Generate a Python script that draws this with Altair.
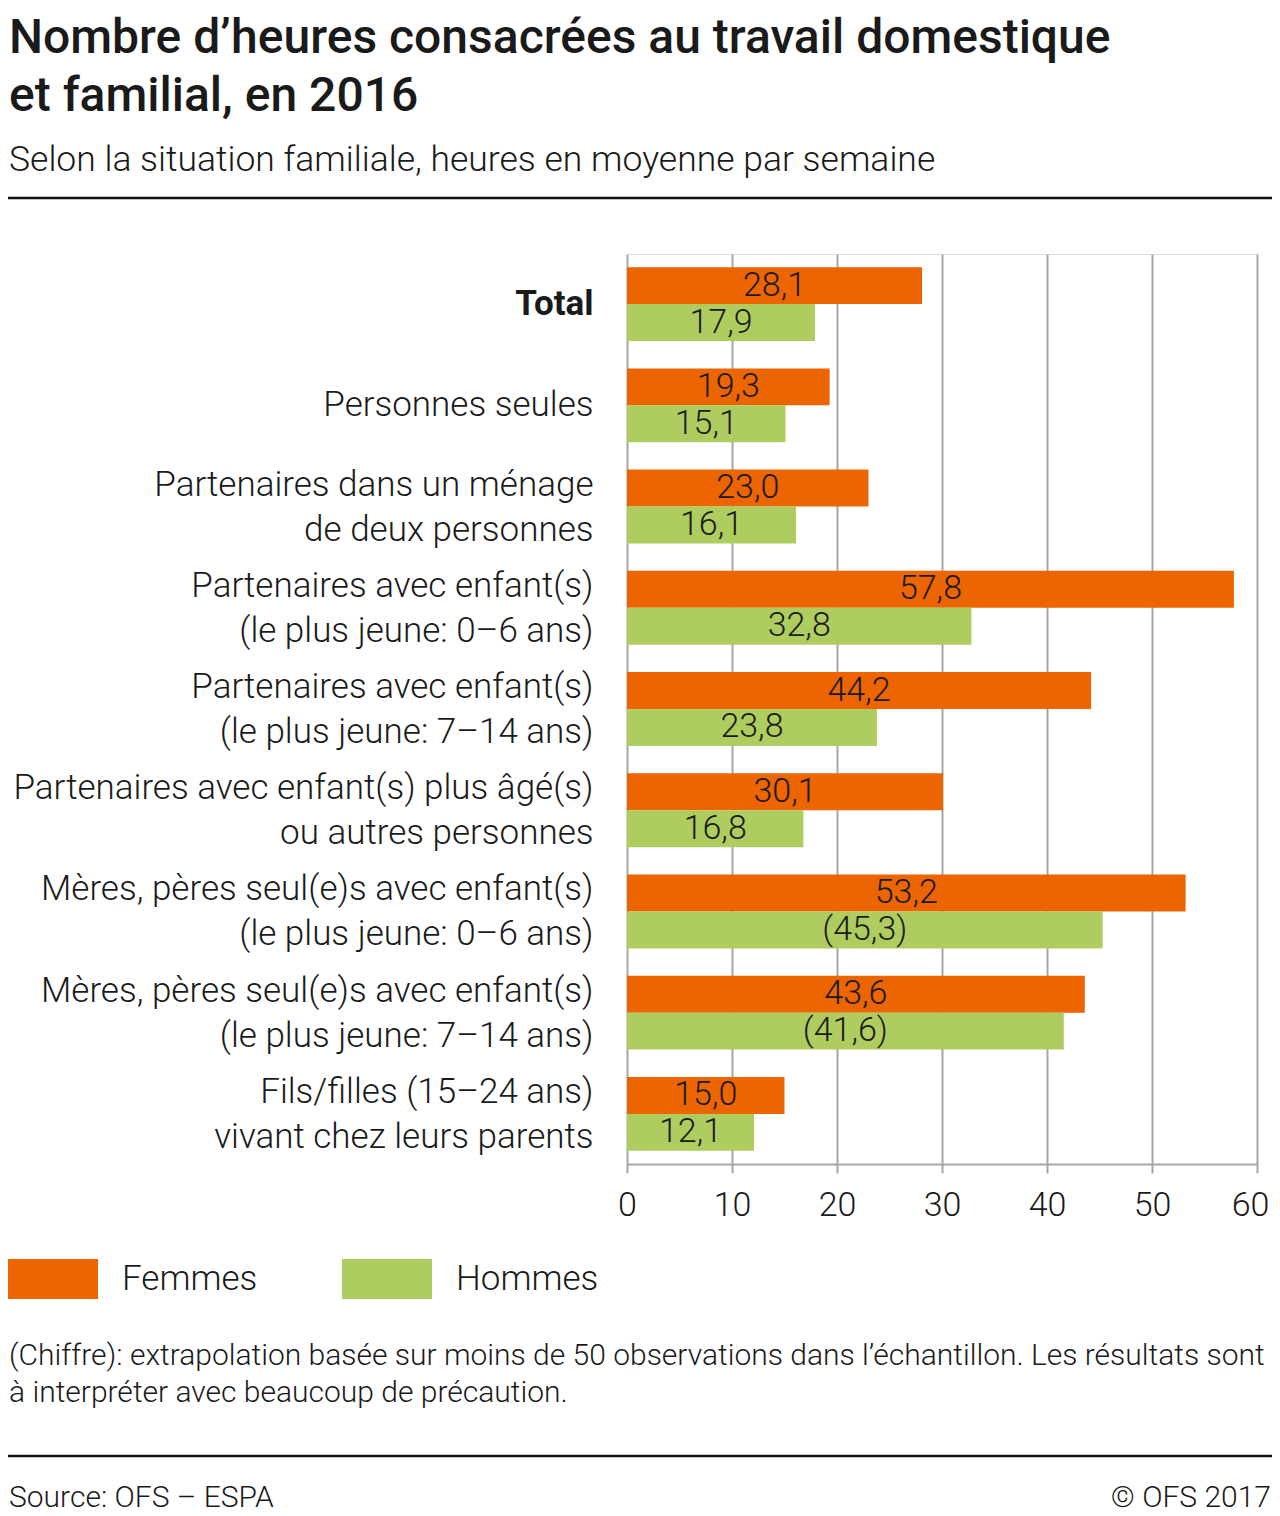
import altair as alt
import pandas as pd

# ---------------- data ----------------
categories = [
    "Total",
    "Personnes seules",
    "Partenaires dans un ménage|de deux personnes",
    "Partenaires avec enfant(s)|(le plus jeune: 0–6 ans)",
    "Partenaires avec enfant(s)|(le plus jeune: 7–14 ans)",
    "Partenaires avec enfant(s) plus âgé(s)|ou autres personnes",
    "Mères, pères seul(e)s avec enfant(s)|(le plus jeune: 0–6 ans)",
    "Mères, pères seul(e)s avec enfant(s)|(le plus jeune: 7–14 ans)",
    "Fils/filles (15–24 ans)|vivant chez leurs parents",
]
femmes = [28.1, 19.3, 23.0, 57.8, 44.2, 30.1, 53.2, 43.6, 15.0]
hommes = [17.9, 15.1, 16.1, 32.8, 23.8, 16.8, 45.3, 41.6, 12.1]
femmes_labels = ["28,1", "19,3", "23,0", "57,8", "44,2", "30,1", "53,2", "43,6", "15,0"]
hommes_labels = ["17,9", "15,1", "16,1", "32,8", "23,8", "16,8", "(45,3)", "(41,6)", "12,1"]
series = ["Femmes", "Hommes"]
colors = ["#EC6500", "#AFCD5F"]
x_ticks = [0, 10, 20, 30, 40, 50, 60]

title_lines = ["Nombre d’heures consacrées au travail domestique", "et familial, en 2016"]
subtitle = "Selon la situation familiale, heures en moyenne par semaine"
note_lines = [
    "(Chiffre): extrapolation basée sur moins de 50 observations dans l’échantillon. Les résultats sont",
    "à interpréter avec beaucoup de précaution.",
]
source_text = "Source: OFS – ESPA"
copyright_text = "© OFS 2017"

FONT = "Roboto"
TXT = "#1a1a1a"
GRID = "#a6a6a6"

rows = []
for c, f, h, fl, hl in zip(categories, femmes, hommes, femmes_labels, hommes_labels):
    rows.append({"cat": c, "sexe": series[0], "value": f, "label": fl})
    rows.append({"cat": c, "sexe": series[1], "value": h, "label": hl})
df = pd.DataFrame(rows)

W, H = 630, 910

y_enc = alt.Y(
    "cat:N",
    sort=categories,
    scale=alt.Scale(paddingInner=0.27, paddingOuter=0.13),
    axis=alt.Axis(
        title=None,
        domain=False,
        ticks=False,
        grid=False,
        labelExpr="split(datum.label, '|')",
        labelFont=FONT,
        labelFontSize=35,
        labelLineHeight=45,
        labelColor=TXT,
        labelPadding=34,
        labelLimit=700,
        labelOverlap=False,
        labelOffset={"condition": {"test": "indexof(datum.value, '|') >= 0", "value": -22}, "value": 0},
        labelFontWeight={"condition": {"test": "datum.value === 'Total'", "value": "bold"}, "value": 300},
    ),
)
yoff = alt.YOffset("sexe:N", sort=series)

x_axis = alt.Axis(
    title=None,
    values=x_ticks,
    format="d",
    grid=True,
    gridColor=GRID,
    gridWidth=2,
    domainColor=GRID,
    domainWidth=2,
    tickColor=GRID,
    tickWidth=2,
    tickSize=9,
    labelFont=FONT,
    labelFontSize=34,
    labelFontWeight=300,
    labelColor=TXT,
    labelPadding=15,
    labelFlush=False,
    labelOffset={"condition": {"test": "datum.value === 60", "value": -7}, "value": 0},
)

bars = alt.Chart(df).mark_bar().encode(
    x=alt.X("value:Q", scale=alt.Scale(domain=[0, 60], nice=False), axis=x_axis),
    y=y_enc,
    yOffset=yoff,
    color=alt.Color(
        "sexe:N",
        scale=alt.Scale(domain=series, range=colors),
        legend=alt.Legend(
            title=None,
            orient="none",
            legendX=-619,
            legendY=980,
            direction="horizontal",
            symbolType="M-1,-0.444L1,-0.444L1,0.444L-1,0.444Z",
            symbolSize=8100,
            symbolStrokeWidth=0,
            symbolOpacity=1,
            labelFont=FONT,
            labelFontSize=35,
            labelFontWeight=300,
            labelColor=TXT,
            labelOffset=24,
            columnPadding=84,
        ),
    ),
)

bar_text = alt.Chart(df).transform_calculate(mid="datum.value / 2").mark_text(
    font=FONT, fontSize=34, fontWeight=300, color=TXT, baseline="middle", align="center"
).encode(
    x=alt.X("mid:Q"),
    y=alt.Y("cat:N", sort=categories),
    yOffset=yoff,
    text="label:N",
)


def txt(text, x, y, size, weight=300, align="left", baseline="alphabetic"):
    return alt.Chart(pd.DataFrame({"t": [text]})).mark_text(
        font=FONT, fontSize=size, fontWeight=weight, color=TXT, align=align, baseline=baseline
    ).encode(x=alt.value(x), y=alt.value(y), text="t:N")


def hrule(y):
    return alt.Chart(pd.DataFrame({"a": [0]})).mark_rule(color="#111111", strokeWidth=2.5).encode(
        x=alt.value(-619), x2=alt.value(645), y=alt.value(y)
    )


ox, oy = 627, 254  # plot origin in page coordinates
LX = 9 - ox
layers = [
    bars,
    bar_text,
    txt(title_lines[0], LX, 52.5 - oy, 48, weight=500),
    txt(title_lines[1], LX, 111 - oy, 48, weight=500),
    txt(subtitle, LX, 171 - oy, 35.5),
    hrule(198 - oy),
    txt(note_lines[0], LX, 1356 - oy, 30, baseline="middle"),
    txt(note_lines[1], LX, 1393 - oy, 30, baseline="middle"),
    hrule(1456 - oy),
    txt(source_text, LX, 1498 - oy, 30, baseline="middle"),
    txt(copyright_text, 1271 - ox, 1498 - oy, 30, align="right", baseline="middle"),
]

chart = alt.layer(*layers).properties(
    width=W,
    height=H,
    autosize=alt.AutoSizeParams(type="none"),
    padding={"left": 619, "top": 246, "right": 15, "bottom": 350},
).configure_view(
    fill="#f0f0f0", stroke=GRID, strokeWidth=2
).configure(font=FONT)

chart.save("out.html", embed_options={"renderer": "svg", "actions": False})
